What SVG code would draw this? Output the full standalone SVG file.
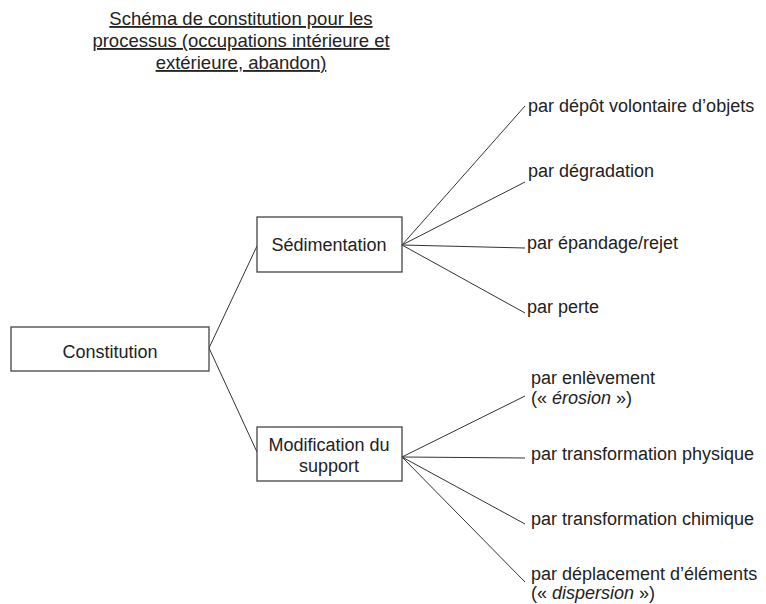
<svg xmlns="http://www.w3.org/2000/svg" width="766" height="604" viewBox="0 0 766 604">
<style>
  text { font-family: "Liberation Sans", Arial, sans-serif; font-size: 18px; fill: #222; }
  .title { text-anchor: middle; text-decoration: underline; font-size: 18.5px; }
  .c { text-anchor: middle; }
  .box { fill: #fff; stroke: #444; stroke-width: 1.3; }
  .conn line { stroke: #333; stroke-width: 1; fill: none; }
</style>
<rect width="766" height="604" fill="#fff"/>
<g id="title">
  <text class="title" x="241" y="25">Schéma de constitution pour les</text>
  <text class="title" x="241" y="47">processus (occupations intérieure et</text>
  <text class="title" x="241" y="69">extérieure, abandon)</text>
</g>
<g id="connectors" class="conn">
  <line x1="209" y1="348" x2="257" y2="246"/>
  <line x1="209" y1="348" x2="257" y2="452"/>
  <line x1="402" y1="245" x2="525" y2="106"/>
  <line x1="402" y1="245" x2="525" y2="182"/>
  <line x1="402" y1="245" x2="525" y2="248"/>
  <line x1="402" y1="245" x2="525" y2="313"/>
  <line x1="402" y1="457" x2="525" y2="396"/>
  <line x1="402" y1="457" x2="525" y2="458"/>
  <line x1="402" y1="457" x2="525" y2="524"/>
  <line x1="402" y1="457" x2="525" y2="582"/>
</g>
<g id="constitution">
  <rect class="box" x="11" y="327" width="198" height="44"/>
  <text class="c" x="110" y="358">Constitution</text>
</g>
<g id="sedimentation">
  <rect class="box" x="257" y="217" width="145" height="55"/>
  <text class="c" x="329" y="251">Sédimentation</text>
</g>
<g id="modification">
  <rect class="box" x="257" y="427" width="145" height="54"/>
  <text class="c" x="329" y="451">Modification du</text>
  <text class="c" x="329" y="472">support</text>
</g>
<g id="sed-depot"><text x="528" y="112">par dépôt volontaire d’objets</text></g>
<g id="sed-degradation"><text x="528" y="177">par dégradation</text></g>
<g id="sed-epandage"><text x="527" y="249">par épandage/rejet</text></g>
<g id="sed-perte"><text x="527" y="313">par perte</text></g>
<g id="mod-enlevement">
  <text x="531" y="384">par enlèvement</text>
  <text x="531" y="404">(« <tspan font-style="italic">érosion</tspan> »)</text>
</g>
<g id="mod-physique"><text x="531" y="460">par transformation physique</text></g>
<g id="mod-chimique"><text x="531" y="525">par transformation chimique</text></g>
<g id="mod-deplacement">
  <text x="531" y="580">par déplacement d’éléments</text>
  <text x="531" y="599">(« <tspan font-style="italic">dispersion</tspan> »)</text>
</g>
</svg>
